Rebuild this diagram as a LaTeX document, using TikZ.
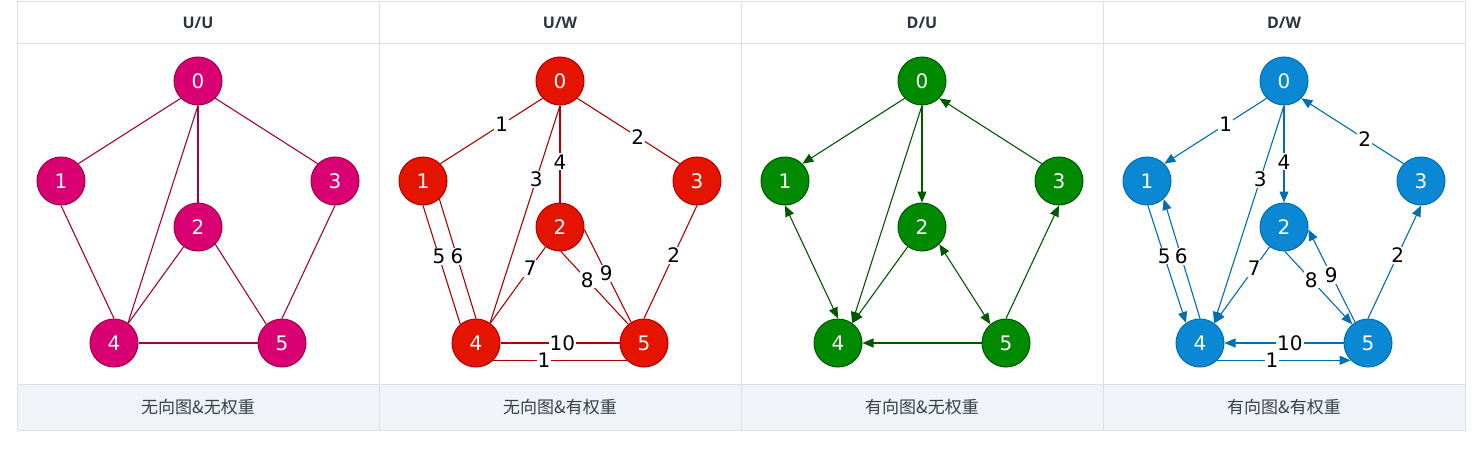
\documentclass[tikz,border=0pt]{standalone}
\usepackage{fontspec}
\setmainfont{DejaVu Sans}
\newfontfamily\headfont{Open Sans}
\newfontfamily\cjkfont{Noto Sans CJK SC}
\usepackage{tikz}
\usetikzlibrary{shapes,arrows.meta}
\definecolor{gridgray}{HTML}{DCE0E5}
\definecolor{footbg}{HTML}{F0F3F7}
\definecolor{headtext}{HTML}{2D3440}
\definecolor{foottext}{HTML}{3A3F47}
\definecolor{pinkfill}{HTML}{D80073}
\definecolor{pinkline}{HTML}{A50040}
\definecolor{redfill}{HTML}{E51400}
\definecolor{redline}{HTML}{B20000}
\definecolor{greenfill}{HTML}{008A00}
\definecolor{greenline}{HTML}{005700}
\definecolor{bluefill}{HTML}{0A88D4}
\definecolor{blueline}{HTML}{006EAF}
\tikzstyle{cell} = [draw=gridgray, line width=1pt]
\tikzstyle{head} = [text=headtext, font=\headfont\bfseries\fontsize{16}{16}\selectfont]
\tikzstyle{foot} = [text=foottext, font=\cjkfont\fontsize{17}{17}\selectfont]
\tikzstyle{vertex} = [circle, draw, line width=1pt, minimum size=48pt, inner sep=0pt, text=white, font=\fontsize{20}{20}\selectfont]
\tikzstyle{uu} = [vertex, fill=pinkfill, draw=pinkline]
\tikzstyle{uw} = [vertex, fill=redfill, draw=redline]
\tikzstyle{du} = [vertex, fill=greenfill, draw=greenline]
\tikzstyle{dw} = [vertex, fill=bluefill, draw=blueline]
\tikzstyle{weight} = [fill=white, inner sep=1pt, text=black, font=\fontsize{20}{20}\selectfont]
\tikzstyle{line} = [draw, line width=1.1pt]
\tikzstyle{arc} = [draw, line width=1.1pt, -{Triangle[length=11pt,width=9pt]}]
\tikzstyle{both} = [draw, line width=1.1pt, {Triangle[length=11pt,width=9pt]}-{Triangle[length=11pt,width=9pt]}]

\begin{document}
\begin{tikzpicture}[x=1pt, y=-1pt]
\useasboundingbox (0,0) rectangle (1482,452);
% table
\fill [footbg] (17,384) rectangle (1465,430);
\draw [cell] (17,2) rectangle (1465,430);
\draw [cell] (17,44) -- (1465,44);
\draw [cell] (17,384) -- (1465,384);
\foreach \x in {379,741,1103} \draw [cell] (\x,2) -- (\x,430);
\node [head] (h1) at (198,23) {U/U};
\node [head] (h2) at (560,23) {U/W};
\node [head] (h3) at (922,23) {D/U};
\node [head] (h4) at (1284,23) {D/W};
\node [foot] (f1) at (198,407) {无向图\&无权重};
\node [foot] (f2) at (560,407) {无向图\&有权重};
\node [foot] (f3) at (922,407) {有向图\&无权重};
\node [foot] (f4) at (1284,407) {有向图\&有权重};

% undirected, unweighted
\begin{scope}[xshift=198pt, color=pinkline]
\node [uu] (a0) at (0,81) {0};
\node [uu] (a1) at (-137,181) {1};
\node [uu] (a2) at (0,227) {2};
\node [uu] (a3) at (137,181) {3};
\node [uu] (a4) at (-84,343) {4};
\node [uu] (a5) at (84,343) {5};
\path [line] (a0.-135) -- (a1.45);
\path [line] (a0.-45) -- (a3.135);
\path [line] (a0) -- (a2);
\path [line] (a0.south) -- (a4.55);
\path [line] (a1.south) -- (a4.north);
\path [line] (a2) -- (a4);
\path [line] (a2.-45) -- (a5.130);
\path [line] (a3.south) -- (a5.north);
\path [line] (a4) -- (a5);
\end{scope}

% undirected, weighted
\begin{scope}[xshift=560pt, color=redline]
\node [uw] (b0) at (0,81) {0};
\node [uw] (b1) at (-137,181) {1};
\node [uw] (b2) at (0,227) {2};
\node [uw] (b3) at (137,181) {3};
\node [uw] (b4) at (-84,343) {4};
\node [uw] (b5) at (84,343) {5};
\path [line] (b0.-135) -- node [weight, pos=.40] (bw01) {1} (b1.45);
\path [line] (b0.-45) -- node [weight, pos=.59] (bw03) {2} (b3.135);
\path [line] (b0) -- node [weight, pos=.58] (bw02) {4} (b2);
\path [line] (b0.south) -- node [weight, pos=.34] (bw04) {3} (b4.55);
\path [line] (b1.-90) -- node [weight, pos=.43] (bw14) {5} (b4.130);
\path [line] (b1.-48) -- node [weight, pos=.48] (bw41) {6} (b4.north);
\path [line] (b2) -- node [weight, pos=.28] (bw24) {7} (b4);
\path [line] (b2.-88) -- node [weight, pos=.39] (bw25) {8} (b5.130);
\path [line] (b2.-6) -- node [weight, pos=.47] (bw52) {9} (b5.122);
\path [line] (b3.south) -- node [weight, pos=.44] (bw35) {2} (b5.north);
\path [line] (b4) -- node [weight, pos=.52] (bw54) {10} (b5);
\path [line] (b4.-45) -- node [weight, pos=.38] (bw45) {1} (b5.-135);
\end{scope}

% directed, unweighted
\begin{scope}[xshift=922pt, color=greenline]
\node [du] (c0) at (0,81) {0};
\node [du] (c1) at (-137,181) {1};
\node [du] (c2) at (0,227) {2};
\node [du] (c3) at (137,181) {3};
\node [du] (c4) at (-84,343) {4};
\node [du] (c5) at (84,343) {5};
\path [arc] (c0.-135) -- (c1.45);
\path [arc] (c3.135) -- (c0.-45);
\path [arc] (c0) -- (c2);
\path [arc] (c0.south) -- (c4.55);
\path [both] (c1.south) -- (c4.north);
\path [arc] (c2) -- (c4);
\path [both] (c2.-45) -- (c5.130);
\path [arc] (c5.north) -- (c3.south);
\path [arc] (c5) -- (c4);
\end{scope}

% directed, weighted
\begin{scope}[xshift=1284pt, color=blueline]
\node [dw] (d0) at (0,81) {0};
\node [dw] (d1) at (-137,181) {1};
\node [dw] (d2) at (0,227) {2};
\node [dw] (d3) at (137,181) {3};
\node [dw] (d4) at (-84,343) {4};
\node [dw] (d5) at (84,343) {5};
\path [arc] (d0.-135) -- node [weight, pos=.40] (dw01) {1} (d1.45);
\path [arc] (d3.135) -- node [weight, pos=.38] (dw30) {2} (d0.-45);
\path [arc] (d0) -- node [weight, pos=.58] (dw02) {4} (d2);
\path [arc] (d0.south) -- node [weight, pos=.34] (dw04) {3} (d4.55);
\path [arc] (d1.-88) -- node [weight, pos=.43] (dw14) {5} (d4.125);
\path [arc] (d4.north) -- node [weight, pos=.52] (dw41) {6} (d1.-47);
\path [arc] (d2) -- node [weight, pos=.28] (dw24) {7} (d4);
\path [arc] (d2.-88) -- node [weight, pos=.39] (dw25) {8} (d5.130);
\path [arc] (d5.122) -- node [weight, pos=.51] (dw52) {9} (d2.-6);
\path [arc] (d5.north) -- node [weight, pos=.56] (dw53) {2} (d3.south);
\path [arc] (d5) -- node [weight, pos=.45] (dw54) {10} (d4);
\path [arc] (d4.-45) -- node [weight, pos=.41] (dw45) {1} (d5.-135);
\end{scope}
\end{tikzpicture}
\end{document}
